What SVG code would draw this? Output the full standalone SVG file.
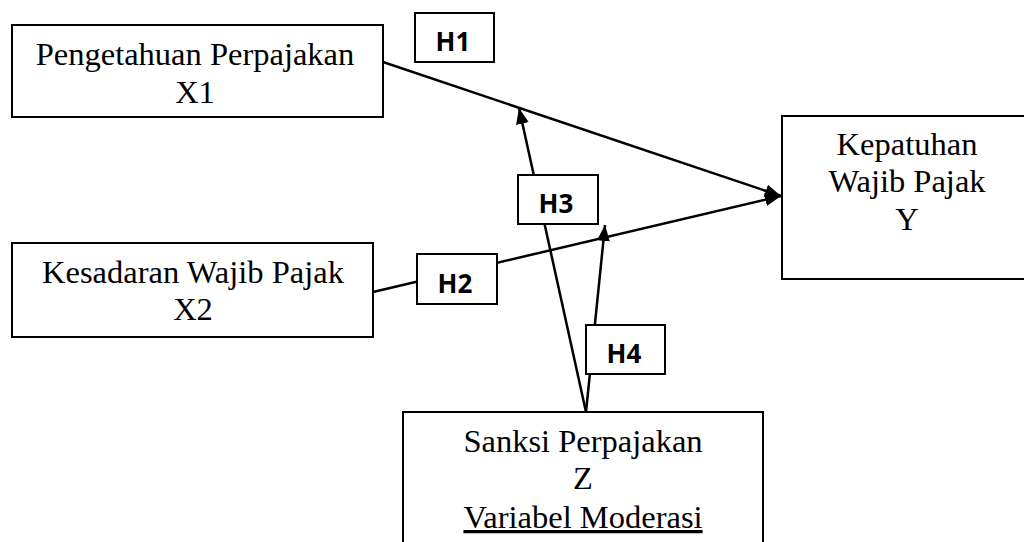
<svg xmlns="http://www.w3.org/2000/svg" width="1024" height="542" viewBox="0 0 1024 542">
  <style>
    .box { fill: #fff; stroke: #000; stroke-width: 2; }
    .t { font-family: 'Liberation Serif', 'Times New Roman', Times, 'DejaVu Serif', serif; font-size: 32.5px; fill: #000; text-anchor: middle; }
    .h { font-family: 'Open Sans', 'Liberation Sans', sans-serif; font-size: 26px; font-weight: bold; fill: #000; text-anchor: middle; }
    .c { fill: none; stroke: #000; stroke-width: 2.5; }
  </style>
  <defs>
    <marker id="arr" markerUnits="userSpaceOnUse" markerWidth="17" markerHeight="14" refX="16" refY="7" orient="auto">
      <path d="M0,0.5 L16,7 L0,13.5 Z" fill="#000"/>
    </marker>
  </defs>
  <rect width="1024" height="542" fill="#fff"/>
  <g id="connectors">
    <line class="c" x1="383" y1="62" x2="781" y2="196" marker-end="url(#arr)"/>
    <line class="c" x1="373" y1="292" x2="781" y2="196" marker-end="url(#arr)"/>
    <line class="c" x1="586" y1="412" x2="519" y2="108" marker-end="url(#arr)"/>
    <line class="c" x1="586" y1="412" x2="605" y2="225" marker-end="url(#arr)"/>
  </g>
  <g id="x1">
    <rect class="box" x="12" y="25" width="371" height="92"/>
    <text class="t" x="195" y="65">Pengetahuan Perpajakan</text>
    <text class="t" x="195" y="103">X1</text>
  </g>
  <g id="x2">
    <rect class="box" x="12" y="243" width="361" height="94"/>
    <text class="t" x="193" y="283">Kesadaran Wajib Pajak</text>
    <text class="t" x="193" y="320">X2</text>
  </g>
  <g id="y">
    <rect class="box" x="782" y="116" width="260" height="163"/>
    <text class="t" x="907" y="155">Kepatuhan</text>
    <text class="t" x="907" y="192">Wajib Pajak</text>
    <text class="t" x="907" y="230">Y</text>
  </g>
  <g id="z">
    <rect class="box" x="403" y="412" width="360" height="140"/>
    <text class="t" x="583" y="452">Sanksi Perpajakan</text>
    <text class="t" x="583" y="489">Z</text>
    <text class="t" x="583" y="528" text-decoration="underline">Variabel Moderasi</text>
  </g>
  <g id="h1">
    <rect class="box" x="415" y="13" width="79" height="49"/>
    <text class="h" x="453" y="51">H1</text>
  </g>
  <g id="h2">
    <rect class="box" x="417" y="254" width="80" height="50"/>
    <text class="h" x="455" y="293">H2</text>
  </g>
  <g id="h3">
    <rect class="box" x="518" y="175" width="80" height="49"/>
    <text class="h" x="556" y="213">H3</text>
  </g>
  <g id="h4">
    <rect class="box" x="586" y="325" width="79" height="49"/>
    <text class="h" x="624" y="363">H4</text>
  </g>
</svg>
